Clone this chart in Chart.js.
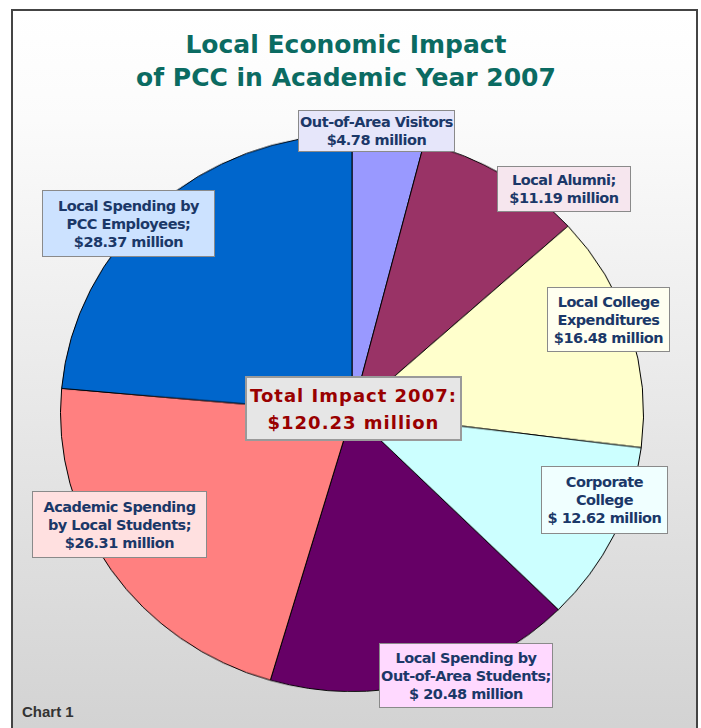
<!DOCTYPE html>
<html>
<head>
<meta charset="utf-8">
<script src="https://cdn.jsdelivr.net/npm/chart.js@4/dist/chart.umd.min.js"></script>
<style>
    body { margin: 0; width: 701px; height: 728px; overflow: hidden; position: relative; background: #fff; font-family: "Liberation Sans", Arial, sans-serif; }
    #frame { position: absolute; left: 11px; top: 9px; width: 683px; height: 730px; border: 2px solid #444; background: linear-gradient(#ffffff 0%, #fbfbfb 15%, #d2d2d2 100%); }
    #title { position: absolute; left: 96px; top: 28px; width: 500px; text-align: center; font: bold 25px "DejaVu Sans", Verdana, sans-serif; color: #0b6b62; line-height: 33px; }
    #wrap { position: absolute; left: 60px; top: 121px; width: 584px; height: 584px; transform: scaleY(0.955); transform-origin: 50% 50%; }
    .lbl { position: absolute; box-sizing: border-box; border: 1px solid #8a8a8a; display: flex; align-items: center; justify-content: center; text-align: center; font: bold 14.5px "DejaVu Sans", Verdana, sans-serif; color: #1b3868; line-height: 18px; letter-spacing: -0.5px; white-space: nowrap; }
    #total { position: absolute; left: 245px; top: 376px; width: 217px; height: 65px; box-sizing: border-box; border: 2px solid #9a9a9a; background: #e6e6e6; display: flex; align-items: center; justify-content: center; text-align: center; font: bold 18px "DejaVu Sans", Verdana, sans-serif; color: #990000; line-height: 27px; letter-spacing: 1px; }
    #note { position: absolute; left: 22px; top: 703px; font: bold 15px "Liberation Sans", Arial, sans-serif; color: #333; }
</style>
</head>
<body>
<div id="frame"></div>
<div id="title">Local Economic Impact<br>of PCC in Academic Year 2007</div>
<div id="wrap"><canvas id="pie"></canvas></div>
<div id="labels"></div>
<div id="total"></div>
<div id="note">Chart 1</div>
<script>
    const categories = [
        'Out-of-Area Visitors',
        'Local Alumni',
        'Local College Expenditures',
        'Corporate College',
        'Local Spending by Out-of-Area Students',
        'Academic Spending by Local Students',
        'Local Spending by PCC Employees'
    ];
    const values = [4.78, 11.19, 16.48, 12.62, 20.48, 26.31, 28.37];
    const sliceColors = ['#9999ff', '#993366', '#ffffcc', '#ccffff', '#660066', '#ff8080', '#0066cc'];
    const labelFills = ['#e6e6fa', '#f6e6ee', '#fffff0', '#f0ffff', '#ffd9ff', '#ffe0e0', '#cce2ff'];
    const labelLines = [
        ['Out-of-Area Visitors', '$4.78 million'],
        ['Local Alumni;', '$11.19 million'],
        ['Local College', 'Expenditures', '$16.48 million'],
        ['Corporate', 'College', '$ 12.62 million'],
        ['Local Spending by', 'Out-of-Area Students;', '$ 20.48 million'],
        ['Academic Spending', 'by Local Students;', '$26.31 million'],
        ['Local Spending by', 'PCC Employees;', '$28.37 million']
    ];
    // label boxes: left, top, width, height
    const labelBoxes = [
        [298, 110, 157, 42],
        [497, 166, 134, 46],
        [547, 287, 123, 65],
        [541, 466, 127, 68],
        [379, 643, 174, 65],
        [32, 491, 175, 67],
        [42, 190, 173, 67]
    ];
    const totalLines = ['Total Impact 2007:', '$120.23 million'];

    let labels = document.getElementById('labels');
    labelLines.forEach((lines, i) => {
        let box = labelBoxes[i];
        let div = document.createElement('div');
        div.className = 'lbl';
        div.style.left = box[0] + 'px';
        div.style.top = box[1] + 'px';
        div.style.width = box[2] + 'px';
        div.style.height = box[3] + 'px';
        div.style.background = labelFills[i];
        div.innerHTML = lines.join('<br>');
        labels.appendChild(div);
    });
    document.getElementById('total').innerHTML = totalLines.join('<br>');

    new Chart(document.getElementById('pie'), {
        type: 'pie',
        data: {
            labels: categories,
            datasets: [{
                data: values,
                backgroundColor: sliceColors,
                borderColor: '#000',
                borderWidth: 1
            }]
        },
        options: {
            responsive: true,
            maintainAspectRatio: false,
            animation: false,
            layout: { padding: 0 },
            plugins: {
                legend: { display: false },
                tooltip: { enabled: false }
            }
        }
    });
</script>
</body>
</html>
